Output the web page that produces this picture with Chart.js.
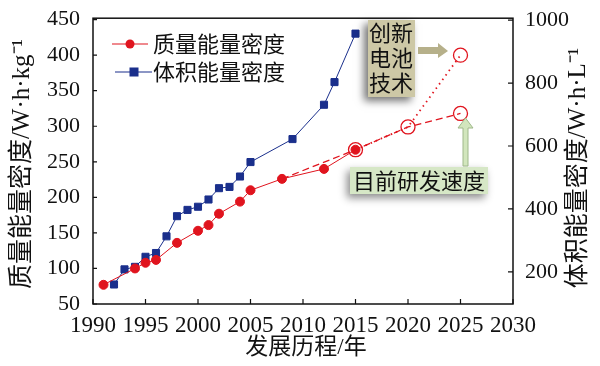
<!DOCTYPE html>
<html>
<head>
<meta charset="utf-8">
<script src="https://cdn.jsdelivr.net/npm/chart.js@4.4.1/dist/chart.umd.min.js"></script>
<style>
  html, body { margin: 0; padding: 0; background: #fff; }
  #wrap { width: 600px; height: 366px; }
</style>
</head>
<body>
<div id="wrap"><canvas id="chart"></canvas></div>
<script>
// 质量能量密度 (W·h·kg⁻¹), left axis
var massYears = [1991, 1994, 1995, 1996, 1998, 2000, 2001, 2002, 2004, 2005, 2008, 2012, 2015];
var massValues = [77, 100, 108, 112, 136, 153, 161, 177, 194, 210, 226, 240, 267];
// 体积能量密度 (W·h·L⁻¹), right axis
var volYears = [1992, 1993, 1994, 1995, 1996, 1997, 1998, 1999, 2000, 2001, 2002, 2003, 2004, 2005, 2009, 2012, 2013, 2015];
var volValues = [160, 208, 216, 248, 260, 313, 377, 397, 407, 430, 466, 470, 503, 549, 622, 731, 803, 957];
// 目前研发速度 (dashed) and 创新电池技术 (dotted) projections
var trendYears = [2008, 2015, 2020, 2025];
var trendValues = [226, 267, 299, 318];
var newTechYears = [2015, 2020, 2025];
var newTechValues = [267, 299, 400];

var xTicks = [1990, 1995, 2000, 2005, 2010, 2015, 2020, 2025, 2030];
var leftTicks = [50, 100, 150, 200, 250, 300, 350, 400, 450];
var rightTicks = [200, 400, 600, 800, 1000];

var RED = "#e0141e";
var BLUE = "#1a2f8c";
var SERIF = "Liberation Serif";
var MIXED = '"Liberation Serif", "Noto Sans CJK SC", serif';

Chart.defaults.font.family = SERIF;
Chart.defaults.color = "#111";

function pts(xs, ys) {
  return xs.map(function (x, i) { return { x: x, y: ys[i] }; });
}
function fixed(list) {
  return function (s) { s.ticks = list.map(function (v) { return { value: v }; }); };
}
function plain(v) { return String(v); }

var extras = {
  id: "extras",
  afterDraw: function (chart) {
    var ctx = chart.ctx;
    var a = chart.chartArea;
    var sx = chart.scales.x, sy = chart.scales.y, sr = chart.scales.y1;
    ctx.save();
    // frame
    ctx.strokeStyle = "#111";
    ctx.lineWidth = 1.5;
    ctx.strokeRect(a.left, a.top, a.right - a.left, a.bottom - a.top);
    // inward ticks
    ctx.lineWidth = 1.2;
    ctx.beginPath();
    xTicks.forEach(function (t) {
      var px = sx.getPixelForValue(t);
      ctx.moveTo(px, a.bottom);
      ctx.lineTo(px, a.bottom - 5);
    });
    leftTicks.forEach(function (t) {
      var py = sy.getPixelForValue(t);
      ctx.moveTo(a.left, py);
      ctx.lineTo(a.left + 4, py);
    });
    rightTicks.forEach(function (t) {
      var py = sr.getPixelForValue(t);
      ctx.moveTo(a.right, py);
      ctx.lineTo(a.right - 5, py);
    });
    ctx.stroke();

    // axis titles
    ctx.fillStyle = "#111";
    ctx.font = "23px " + MIXED;
    ctx.textAlign = "center";
    ctx.textBaseline = "middle";
    ctx.fillText("发展历程/年", (a.left + a.right) / 2 + 3, 348);
    ctx.font = "25px " + MIXED;
    ctx.save();
    ctx.translate(22, 164);
    ctx.rotate(-Math.PI / 2);
    ctx.fillText("质量能量密度/W·h·kg⁻¹", 0, 0);
    ctx.restore();
    ctx.save();
    ctx.translate(578, 168);
    ctx.rotate(-Math.PI / 2);
    ctx.fillText("体积能量密度/W·h·L⁻¹", 0, 0);
    ctx.restore();

    // legend
    ctx.textAlign = "left";
    ctx.font = '22px "Noto Sans CJK SC", sans-serif';
    ctx.strokeStyle = RED;
    ctx.lineWidth = 1.2;
    ctx.beginPath(); ctx.moveTo(112, 44); ctx.lineTo(148, 44); ctx.stroke();
    ctx.fillStyle = RED;
    ctx.beginPath(); ctx.arc(130, 44, 4.5, 0, Math.PI * 2); ctx.fill();
    ctx.strokeStyle = BLUE;
    ctx.beginPath(); ctx.moveTo(115, 72); ctx.lineTo(152, 72); ctx.stroke();
    ctx.fillStyle = BLUE;
    ctx.fillRect(129.5, 67.5, 9, 9);
    ctx.fillStyle = "#111";
    ctx.fillText("质量能量密度", 153, 44);
    ctx.fillText("体积能量密度", 153, 72);

    // 创新电池技术 box
    ctx.save();
    ctx.shadowColor = "rgba(0,0,0,0.55)";
    ctx.shadowBlur = 8;
    ctx.shadowOffsetX = -4;
    ctx.shadowOffsetY = 4;
    ctx.fillStyle = "#cdc8a6";
    ctx.fillRect(368, 20, 47, 77);
    ctx.restore();
    ctx.fillStyle = "#b6b08a";
    ctx.beginPath();
    ctx.moveTo(418, 47); ctx.lineTo(438, 47); ctx.lineTo(438, 43);
    ctx.lineTo(448, 51); ctx.lineTo(438, 58); ctx.lineTo(438, 54);
    ctx.lineTo(418, 54); ctx.closePath(); ctx.fill();
    ctx.fillStyle = "#111";
    ctx.textAlign = "center";
    ctx.fillText("创新", 391, 33);
    ctx.fillText("电池", 391, 58);
    ctx.fillText("技术", 391, 83);

    // 目前研发速度 box
    ctx.save();
    ctx.shadowColor = "rgba(0,0,0,0.45)";
    ctx.shadowBlur = 8;
    ctx.shadowOffsetX = -3;
    ctx.shadowOffsetY = 4;
    ctx.fillStyle = "#d6e7c6";
    ctx.fillRect(350, 167, 138, 27);
    ctx.restore();
    ctx.fillStyle = "#d2e6bd";
    ctx.strokeStyle = "#9fb88a";
    ctx.lineWidth = 1;
    ctx.beginPath();
    ctx.moveTo(463, 166); ctx.lineTo(463, 128); ctx.lineTo(458, 128);
    ctx.lineTo(465.5, 118); ctx.lineTo(473, 128); ctx.lineTo(468, 128);
    ctx.lineTo(468, 166); ctx.closePath(); ctx.fill(); ctx.stroke();
    ctx.fillStyle = "#111";
    ctx.fillText("目前研发速度", 419, 181);
    ctx.restore();
  }
};

new Chart(document.getElementById("chart"), {
  type: "scatter",
  data: {
    datasets: [
      {
        label: "目前研发速度",
        data: pts(trendYears, trendValues),
        yAxisID: "y",
        showLine: true,
        borderColor: RED,
        borderWidth: 1.3,
        borderDash: [7, 4],
        pointRadius: [0, 7, 7, 7],
        pointBorderWidth: 1.3,
        pointBorderColor: RED,
        pointBackgroundColor: "rgba(255,255,255,0)"
      },
      {
        label: "创新电池技术",
        data: pts(newTechYears, newTechValues),
        yAxisID: "y",
        showLine: true,
        borderColor: RED,
        borderWidth: 1.8,
        borderDash: [1.5, 4],
        pointRadius: [0, 0, 7],
        pointBorderWidth: 1.3,
        pointBorderColor: RED,
        pointBackgroundColor: "rgba(255,255,255,0)"
      },
      {
        label: "质量能量密度",
        data: pts(massYears, massValues),
        yAxisID: "y",
        showLine: true,
        borderColor: RED,
        borderWidth: 1,
        pointRadius: 4.5,
        pointBackgroundColor: RED,
        pointBorderColor: RED
      },
      {
        label: "体积能量密度",
        data: pts(volYears, volValues),
        yAxisID: "y1",
        showLine: true,
        borderColor: BLUE,
        borderWidth: 1,
        pointStyle: "rect",
        pointRadius: 5,
        pointBackgroundColor: BLUE,
        pointBorderColor: BLUE
      }
    ]
  },
  options: {
    responsive: true,
    maintainAspectRatio: false,
    animation: false,
    layout: { padding: { top: 9, left: 0, right: 0, bottom: 0 } },
    plugins: { legend: { display: false }, tooltip: { enabled: false } },
    scales: {
      x: {
        type: "linear",
        min: 1990,
        max: 2030,
        afterBuildTicks: fixed(xTicks),
        afterFit: function (s) { s.height = 62; },
        grid: { display: false },
        border: { display: false },
        ticks: { color: "#111", font: { family: SERIF, size: 23 }, padding: 0, maxRotation: 0, autoSkip: false, callback: plain }
      },
      y: {
        position: "left",
        min: 50,
        max: 452,
        afterBuildTicks: fixed(leftTicks),
        afterFit: function (s) { s.width = 93; },
        grid: { display: false },
        border: { display: false },
        ticks: { color: "#111", font: { family: SERIF, size: 22 }, padding: 5, callback: plain }
      },
      y1: {
        position: "right",
        min: 98,
        max: 1006,
        afterBuildTicks: fixed(rightTicks),
        afterFit: function (s) { s.width = 87; },
        grid: { display: false },
        border: { display: false },
        ticks: { color: "#111", font: { family: SERIF, size: 22 }, padding: 4, callback: plain }
      }
    }
  },
  plugins: [extras]
});
</script>
</body>
</html>
